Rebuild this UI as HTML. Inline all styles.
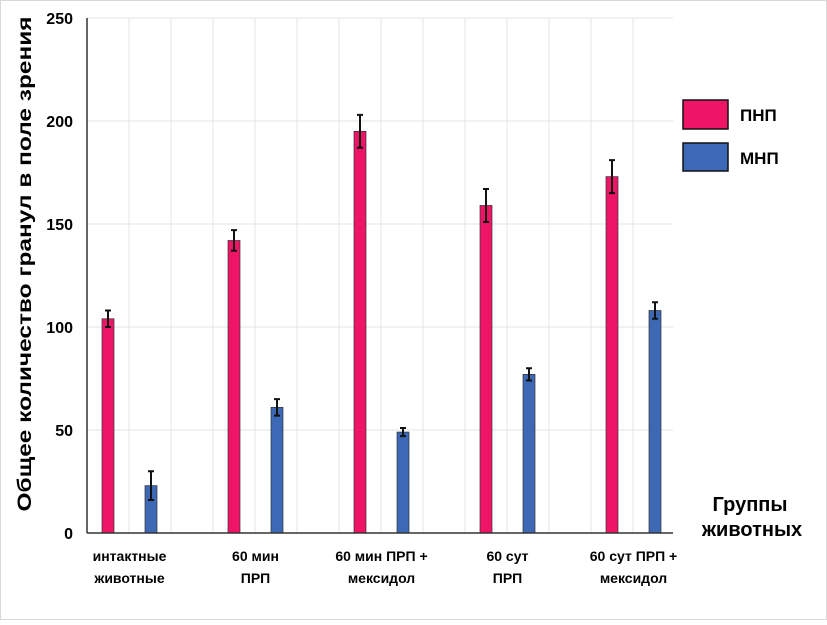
<!DOCTYPE html>
<html><head><meta charset="utf-8"><style>
body{margin:0;background:#fff;}
svg text{font-family:"Liberation Sans",sans-serif;font-weight:bold;fill:#000;}
</style></head><body>
<svg width="827" height="620" viewBox="0 0 827 620">
<rect x="0.5" y="0.5" width="826" height="619" fill="#fff" stroke="#d8d8d8"/>
<g id="grid"></g>
<g id="bars"></g>
<g id="axes"></g>
<text x="31" y="264" font-size="19" text-anchor="middle" textLength="495" lengthAdjust="spacingAndGlyphs" transform="rotate(-90 31 264)">Общее количество гранул в поле зрения</text>
<text x="750" y="511" font-size="20" text-anchor="middle">Группы</text>
<text x="752" y="536" font-size="20" text-anchor="middle">животных</text>
<rect x="683" y="100" width="45" height="29" fill="#ee1566" stroke="#111" stroke-width="1.5"/>
<text x="740" y="121" font-size="17">ПНП</text>
<rect x="683" y="143" width="45" height="28" fill="#3d68b5" stroke="#111" stroke-width="1.5"/>
<text x="740" y="164" font-size="17">МНП</text>
</svg>
<script>
const categories=[["интактные","животные"],["60 мин","ПРП"],["60 мин ПРП +","мексидол"],["60 сут","ПРП"],["60 сут ПРП +","мексидол"]];
const pnp=[104,142,195,159,173];
const pnpErr=[4,5,8,8,8];
const mnp=[23,61,49,77,108];
const mnpErr=[7,4,2,3,4];
const yTicks=[0,50,100,150,200,250];
const NS="http://www.w3.org/2000/svg";
const x0=87,x1=673,yBase=533,yTop=18,yMax=250;
const y=v=>yBase-(v/yMax)*(yBase-yTop);
const groupW=126;
const cx=(i,s)=>108+groupW*i+s*43;
function mk(t,a,p){const e=document.createElementNS(NS,t);for(const k in a)e.setAttribute(k,a[k]);(p||document.getElementById('bars')).appendChild(e);return e;}
const grid=document.getElementById('grid'),axes=document.getElementById('axes');
for(let gx=x0+42;gx<x1;gx+=42){const l=mk('line',{x1:gx,x2:gx,y1:yTop,y2:yBase,stroke:'#e6e6e6'},grid);

}
yTicks.forEach(t=>{const l=mk('line',{x1:x0,x2:x1,y1:y(t),y2:y(t),stroke:'#e3e3e3'},grid);


const tx=mk('text',{x:73,y:y(t)+6,'font-size':16,'text-anchor':'end'},axes);tx.textContent=t;

});
const ya=mk('line',{x1:x0,x2:x0,y1:yTop,y2:yBase,stroke:'#333','stroke-width':1.5},axes);


const xa=mk('line',{x1:x0,x2:x1,y1:yBase,y2:yBase,stroke:'#333','stroke-width':1.5},axes);


function bar(i,s,v,e,col,name){const c=cx(i,s);
const r=mk('rect',{x:c-6,y:y(v),width:12,height:yBase-y(v),fill:col,stroke:'#333','stroke-width':0.7});


const g=mk('path',{d:`M${c},${y(v+e)}V${y(v-e)}M${c-3},${y(v+e)}H${c+3}M${c-3},${y(v-e)}H${c+3}`,stroke:'#111','stroke-width':2,fill:'none'});

}
categories.forEach((c,i)=>{bar(i,0,pnp[i],pnpErr[i],'#ee1566','pnp');bar(i,1,mnp[i],mnpErr[i],'#3d68b5','mnp');
const mid=(cx(i,0)+cx(i,1))/2;
c.forEach((ln,k)=>{const t=mk('text',{x:mid,y:561+k*22,'font-size':14,'text-anchor':'middle'},axes);t.textContent=ln;

});});
</script>
</body></html>
